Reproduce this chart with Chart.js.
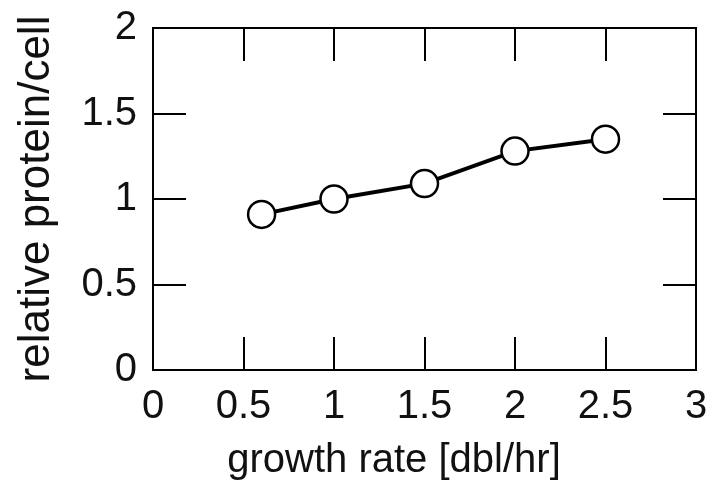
<!DOCTYPE html>
<html>
<head>
<meta charset="utf-8">
<script src="https://cdn.jsdelivr.net/npm/chart.js@4.4.0/dist/chart.umd.min.js"></script>
<style>
  html, body { margin: 0; padding: 0; background: #fff; }
  #wrap { width: 713px; height: 484px; }
</style>
</head>
<body>
<div id="wrap"><canvas id="chart1"></canvas></div>
<script>
const growthRate = [0.6, 1.0, 1.5, 2.0, 2.5];
const protein = [0.91, 1.0, 1.09, 1.28, 1.35];
const xTicks = [0, 0.5, 1, 1.5, 2, 2.5, 3];
const yTicks = [0, 0.5, 1, 1.5, 2];
const xTitle = 'growth rate [dbl/hr]';
const yTitle = 'relative protein/cell';

const FONT = '"Liberation Sans", Arial, Helvetica, sans-serif';

// box around the plot, ticks pointing inward on all four sides, x title
const framePlugin = {
    id: 'frame',
    afterDraw(chart) {
        const { ctx, chartArea: a, scales } = chart;
        const len = 33;
        ctx.save();
        ctx.strokeStyle = '#000';
        ctx.lineWidth = 2;
        ctx.strokeRect(a.left, a.top, a.right - a.left, a.bottom - a.top);
        ctx.beginPath();
        xTicks.forEach(v => {
            const px = Math.round(scales.x.getPixelForValue(v));
            ctx.moveTo(px, a.bottom); ctx.lineTo(px, a.bottom - len);
            ctx.moveTo(px, a.top); ctx.lineTo(px, a.top + len);
        });
        yTicks.forEach(v => {
            const py = Math.round(scales.y.getPixelForValue(v));
            ctx.moveTo(a.left, py); ctx.lineTo(a.left + len, py);
            ctx.moveTo(a.right, py); ctx.lineTo(a.right - len, py);
        });
        ctx.stroke();
        ctx.fillStyle = '#111';
        ctx.font = '40px ' + FONT;
        ctx.textAlign = 'center';
        ctx.textBaseline = 'alphabetic';
        ctx.fillText(xTitle, 394, 472);
        ctx.restore();
    }
};

function noPad(s) {
    s.paddingLeft = 0; s.paddingRight = 0; s.paddingTop = 0; s.paddingBottom = 0;
}

document.addEventListener('DOMContentLoaded', () => {
    const ctx1 = document.getElementById('chart1').getContext('2d');
    new Chart(ctx1, {
        type: 'scatter',
        data: {
            datasets: [{
                data: growthRate.map((x, i) => ({ x: x, y: protein[i] })),
                showLine: true,
                borderColor: '#000',
                borderWidth: 4,
                pointRadius: 13.5,
                pointBorderWidth: 2.5,
                pointBackgroundColor: '#fff',
                pointBorderColor: '#000',
                tension: 0
            }]
        },
        options: {
            responsive: true,
            maintainAspectRatio: false,
            animation: false,
            layout: { padding: { top: 28, right: 17, left: 0, bottom: 0 } },
            scales: {
                x: {
                    type: 'linear',
                    min: 0, max: 3,
                    afterBuildTicks: s => { s.ticks = xTicks.map(v => ({ value: v })); },
                    afterFit: s => { s.height = 114; noPad(s); },
                    grid: { display: false, drawTicks: false },
                    border: { display: false },
                    ticks: { color: '#111', padding: 13, font: { family: FONT, size: 40 }, maxRotation: 0,
                             callback: v => String(v) }
                },
                y: {
                    min: 0, max: 2,
                    afterBuildTicks: s => { s.ticks = yTicks.map(v => ({ value: v })); },
                    afterFit: s => { s.width = 153; noPad(s); },
                    grid: { display: false, drawTicks: false },
                    border: { display: false },
                    ticks: { color: '#111', padding: 16, font: { family: FONT, size: 40 },
                             callback: v => String(v) },
                    title: { display: true, text: yTitle, color: '#111', padding: { top: 10, bottom: 0 }, font: { family: FONT, size: 44 } }
                }
            },
            plugins: { legend: { display: false }, tooltip: { enabled: false } }
        },
        plugins: [framePlugin]
    });
});
</script>
</body>
</html>
